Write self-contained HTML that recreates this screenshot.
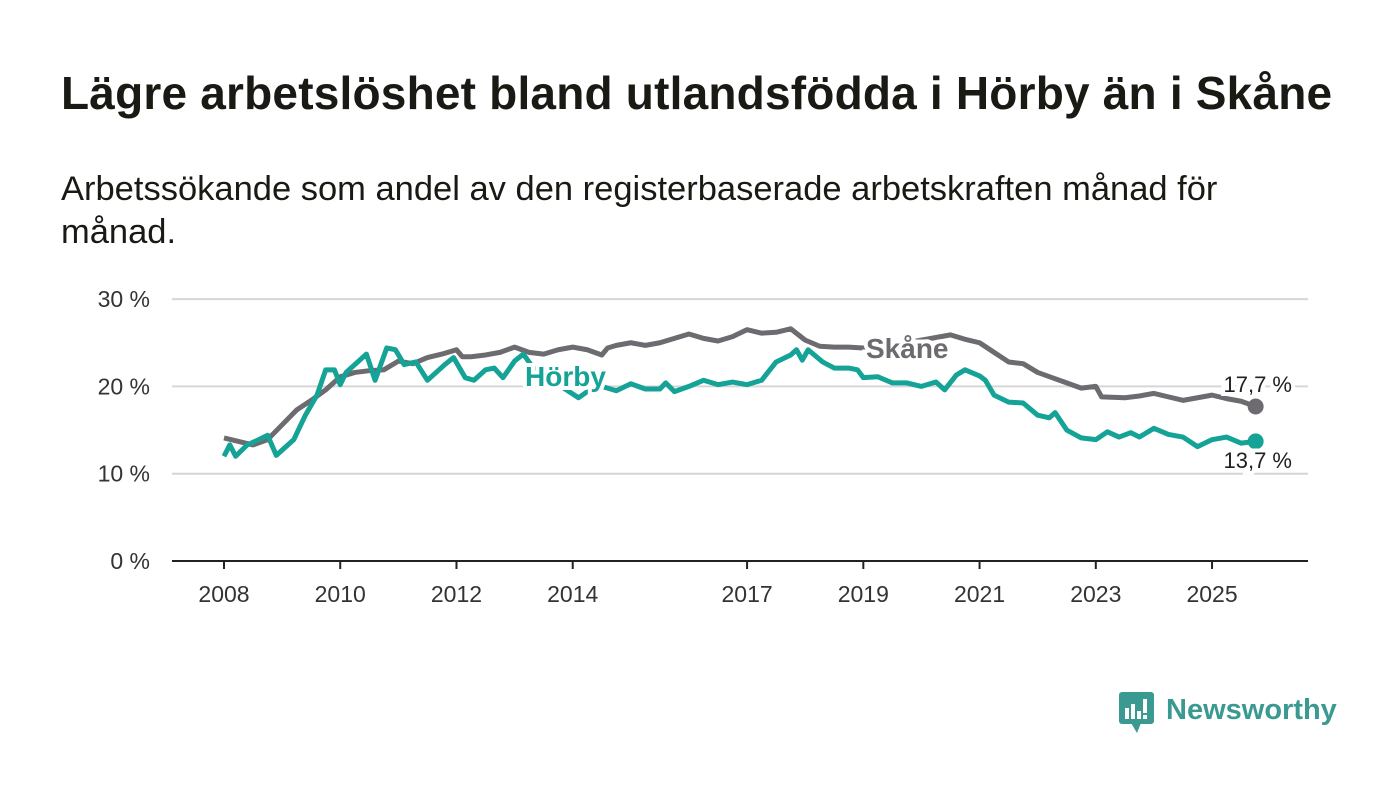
<!DOCTYPE html>
<html><head><meta charset="utf-8"><style>
body{margin:0;width:1400px;height:794px;background:#fff;font-family:"Liberation Sans",sans-serif;overflow:hidden;position:relative}
h1{position:absolute;left:61px;top:66px;margin:0;font-size:46px;font-weight:bold;color:#1a1a14;white-space:nowrap;letter-spacing:0.2px}
.sub{position:absolute;left:61px;top:168px;width:1250px;font-size:34.5px;line-height:43px;color:#1a1a14}
svg{position:absolute;left:0;top:0}
</style></head><body>
<h1>Lägre arbetslöshet bland utlandsfödda i Hörby än i Skåne</h1>
<div class="sub">Arbetssökande som andel av den registerbaserade arbetskraften månad för månad.</div>
<svg id="c" width="1400" height="794"></svg>
<script>
const yTicks=[0,10,20,30];
const xTicks=[2008,2010,2012,2014,2017,2019,2021,2023,2025];
const skaneDates=[2008,2008.25,2008.5,2008.75,2009,2009.25,2009.5,2009.75,2010,2010.25,2010.5,2010.75,2011,2011.25,2011.5,2011.75,2012,2012.1,2012.25,2012.5,2012.75,2013,2013.25,2013.5,2013.75,2014,2014.25,2014.5,2014.6,2014.75,2015,2015.25,2015.5,2015.75,2016,2016.25,2016.5,2016.75,2017,2017.25,2017.5,2017.75,2018,2018.25,2018.5,2018.75,2019,2019.5,2020,2020.5,2020.75,2021,2021.25,2021.5,2021.75,2022,2022.25,2022.5,2022.75,2023,2023.1,2023.5,2023.75,2024,2024.25,2024.5,2024.75,2025,2025.25,2025.5,2025.75];
const skaneValues=[14.1,13.7,13.3,13.9,15.6,17.3,18.4,19.6,21.1,21.6,21.8,21.9,22.9,22.6,23.3,23.7,24.2,23.4,23.4,23.6,23.9,24.5,23.9,23.7,24.2,24.5,24.2,23.6,24.4,24.7,25.0,24.7,25.0,25.5,26.0,25.5,25.2,25.7,26.5,26.1,26.2,26.6,25.3,24.6,24.5,24.5,24.4,24.7,25.3,25.9,25.4,25.0,23.9,22.8,22.6,21.6,21.0,20.4,19.8,20.0,18.8,18.7,18.9,19.2,18.8,18.4,18.7,19.0,18.6,18.3,17.7];
const horbyDates=[2008,2008.1,2008.2,2008.4,2008.6,2008.75,2008.9,2009.2,2009.4,2009.6,2009.75,2009.9,2010,2010.1,2010.3,2010.45,2010.6,2010.8,2010.95,2011.1,2011.3,2011.5,2011.6,2011.8,2011.95,2012.15,2012.3,2012.5,2012.65,2012.8,2013,2013.15,2013.3,2013.45,2013.8,2014.1,2014.25,2014.5,2014.75,2015,2015.25,2015.5,2015.6,2015.75,2016,2016.25,2016.5,2016.75,2017,2017.25,2017.5,2017.75,2017.85,2017.95,2018.05,2018.3,2018.5,2018.75,2018.9,2019,2019.25,2019.5,2019.75,2020,2020.25,2020.4,2020.6,2020.75,2021,2021.1,2021.25,2021.5,2021.75,2022,2022.2,2022.3,2022.5,2022.75,2023,2023.2,2023.4,2023.6,2023.75,2024,2024.25,2024.5,2024.75,2025,2025.25,2025.5,2025.75];
const horbyValues=[12.0,13.3,12.0,13.3,13.9,14.4,12.1,13.9,16.7,19.0,21.9,21.9,20.2,21.6,22.8,23.7,20.7,24.4,24.2,22.5,22.8,20.7,21.3,22.5,23.3,21.0,20.7,21.9,22.1,21.0,22.9,23.7,22.3,21.2,20.0,18.7,19.4,20.0,19.5,20.3,19.7,19.7,20.4,19.4,20.0,20.7,20.2,20.5,20.2,20.7,22.8,23.6,24.2,23.0,24.2,22.8,22.1,22.1,21.9,21.0,21.1,20.4,20.4,20.0,20.5,19.6,21.3,21.9,21.2,20.7,19.0,18.2,18.1,16.7,16.4,17.0,15.0,14.1,13.9,14.8,14.2,14.7,14.2,15.2,14.5,14.2,13.1,13.9,14.2,13.5,13.7];
const NS="http://www.w3.org/2000/svg";
const svg=document.getElementById('c');
const xS=d=>224+(d-2008)*58.12;
const yS=v=>561-v*8.73;
function mk(t,a,txt){const e=document.createElementNS(NS,t);for(const k in a)e.setAttribute(k,a[k]);if(txt!==undefined)e.textContent=txt;svg.appendChild(e);return e;}
yTicks.forEach(t=>{
  const l=mk('line',{x1:172,x2:1308,y1:yS(t),y2:yS(t),stroke:t===0?'#222':'#d6d6d6','stroke-width':2});
  
  
  const tx=mk('text',{x:150,y:yS(t)+8,'text-anchor':'end','font-size':23,fill:'#333'},t+' %');
  
  
});
xTicks.forEach(t=>{
  const l=mk('line',{x1:xS(t),x2:xS(t),y1:561,y2:569,stroke:'#222','stroke-width':2});
  
  
  const tx=mk('text',{x:xS(t),y:602,'text-anchor':'middle','font-size':23,fill:'#333'},t);
  
  
});
function line(ds,vs,col,name){
  const p=mk('polyline',{points:ds.map((d,i)=>xS(d)+','+yS(vs[i])).join(' '),fill:'none',stroke:col,'stroke-width':5,'stroke-linejoin':'round'});
  
  
  const c=mk('circle',{cx:xS(ds[ds.length-1]),cy:yS(vs[vs.length-1]),r:8,fill:col});
  
  
}
line(skaneDates,skaneValues,'#6d6a70','skane-line');
line(horbyDates,horbyValues,'#14a396','horby-line');
function lab(x,y,txt,col,name,size,w,anchor){
  const t=mk('text',{x:x,y:y,'font-size':size,'font-weight':w,fill:col,stroke:'#fff','stroke-width':8,'paint-order':'stroke','text-anchor':anchor||'start'},txt);
  
  
}
lab(866,358,'Skåne','#6d6a70','skane-label',28,'bold');
lab(525,386,'Hörby','#14a396','horby-label',28,'bold');
lab(1292,392,'17,7 %','#222','skane-end-value',22,'normal','end');
lab(1292,468,'13,7 %','#222','horby-end-value',22,'normal','end');
const g=mk('g',{});


g.innerHTML='<rect x="1119" y="692" width="35" height="32" rx="3" fill="#3a9a91"/><path d="M1131 723 L1137 733 L1141 723 Z" fill="#3a9a91"/><rect x="1125" y="708" width="4" height="11" fill="#fff"/><rect x="1131" y="704" width="4" height="15" fill="#fff"/><rect x="1137" y="711" width="4" height="8" fill="#fff"/><rect x="1143" y="699" width="4" height="14" fill="#fff"/><rect x="1143" y="715" width="4" height="4" fill="#fff"/><text x="1166" y="719" font-size="29" font-weight="bold" fill="#3a9a91">Newsworthy</text>';
svg.appendChild(g);
</script>
</body></html>
